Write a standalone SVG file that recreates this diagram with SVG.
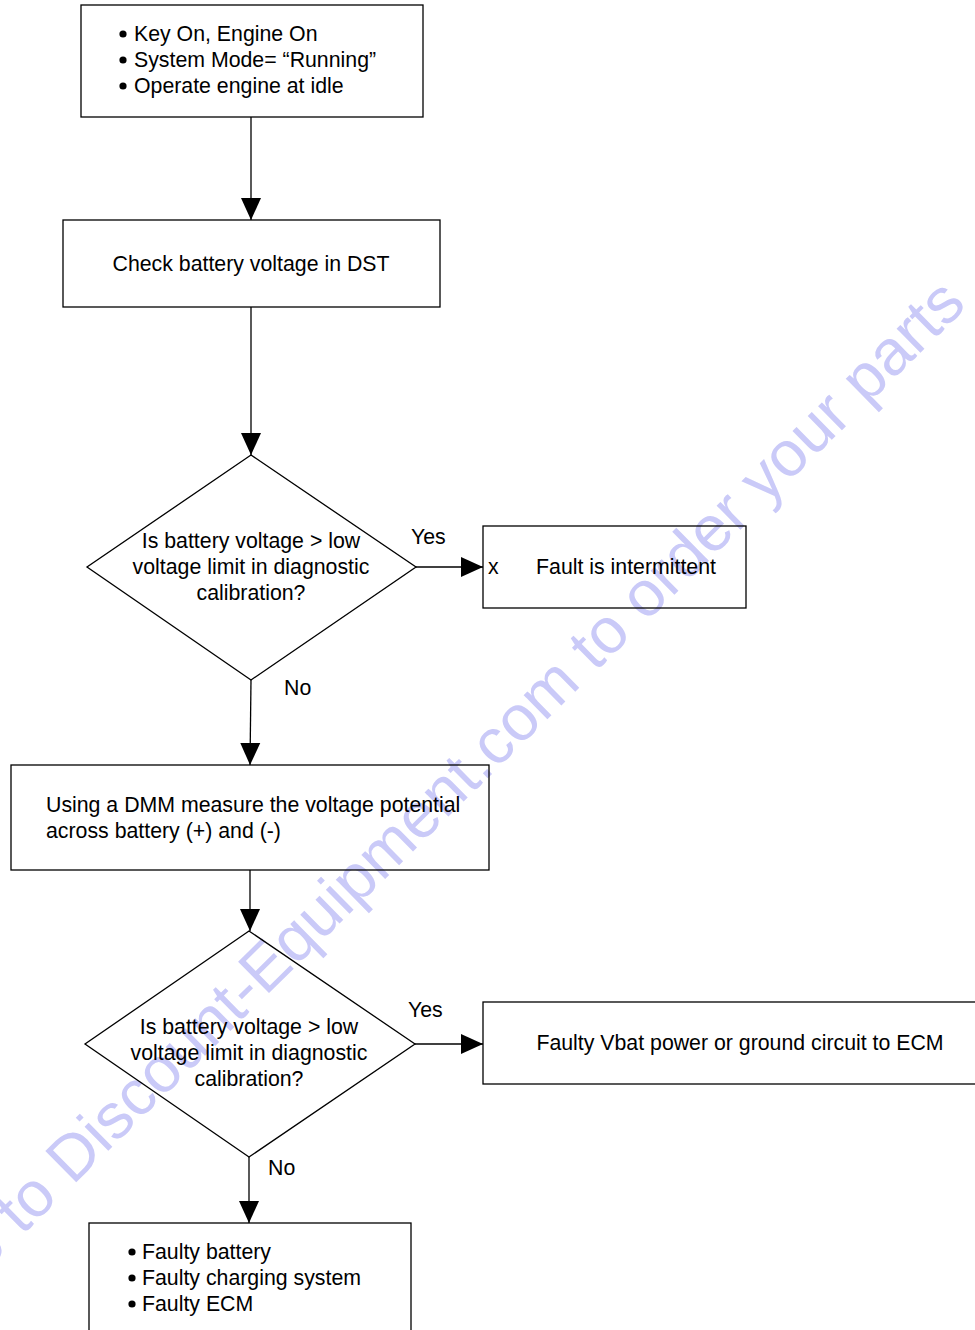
<svg xmlns="http://www.w3.org/2000/svg" width="975" height="1330" viewBox="0 0 975 1330">
<style>
.n{fill:none;stroke:#000;stroke-width:1.3}
.t{font-family:"Liberation Sans",Arial,sans-serif;font-size:21.3px;fill:#000}
.c{text-anchor:middle}
.e{stroke:#000;stroke-width:1.3;fill:none;marker-end:url(#ah)}
.wm{font-family:"Liberation Sans",Arial,sans-serif;font-size:64px;fill:#cacaf8}
</style>
<defs>
<marker id="ah" markerUnits="userSpaceOnUse" markerWidth="24" markerHeight="22" viewBox="0 0 24 22" refX="22" refY="11" orient="auto">
<path d="M0,1 L22,11 L0,21 Z" fill="#000"/>
</marker>
</defs>
<rect width="975" height="1330" fill="#fff"/>
<text class="wm" transform="translate(968,306) rotate(-44.5)" text-anchor="end">Go to Discount-Equipment.com to order your parts</text>
<g id="connectors">
<path class="e" d="M251,117 L251,220"/>
<path class="e" d="M251,307 L251,455"/>
<path class="e" d="M416,567 L483,567"/>
<path class="e" d="M251,680 L250,765"/>
<path class="e" d="M250,870 L250,931"/>
<path class="e" d="M415,1044 L483,1044"/>
<path class="e" d="M249,1157 L249,1223"/>
<text class="t" x="411" y="544">Yes</text>
<text class="t" x="284" y="695">No</text>
<text class="t" x="408" y="1017">Yes</text>
<text class="t" x="268" y="1175">No</text>
</g>
<g id="n1">
<rect class="n" x="81" y="5" width="342" height="112"/>
<circle cx="123" cy="34" r="3.6"/><circle cx="123" cy="60" r="3.6"/><circle cx="123" cy="86" r="3.6"/>
<text class="t" x="134" y="41">Key On, Engine On</text>
<text class="t" x="134" y="67">System Mode= “Running”</text>
<text class="t" x="134" y="93">Operate engine at idle</text>
</g>
<g id="n2">
<rect class="n" x="63" y="220" width="377" height="87"/>
<text class="t c" x="251" y="271">Check battery voltage in DST</text>
</g>
<g id="n3">
<path class="n" d="M251,455 L416,567 L251,680 L87,567 Z"/>
<text class="t c" x="251" y="548">Is battery voltage &gt; low</text>
<text class="t c" x="251" y="574">voltage limit in diagnostic</text>
<text class="t c" x="251" y="600">calibration?</text>
</g>
<g id="n4">
<rect class="n" x="483" y="526" width="263" height="82"/>
<text class="t" x="488" y="574">x</text>
<text class="t c" x="626" y="574">Fault is intermittent</text>
</g>
<g id="n5">
<rect class="n" x="11" y="765" width="478" height="105"/>
<text class="t" x="46" y="812">Using a DMM measure the voltage potential</text>
<text class="t" x="46" y="838">across battery (+) and (-)</text>
</g>
<g id="n6">
<path class="n" d="M249,931 L415,1044 L249,1157 L85,1044 Z"/>
<text class="t c" x="249" y="1034">Is battery voltage &gt; low</text>
<text class="t c" x="249" y="1060">voltage limit in diagnostic</text>
<text class="t c" x="249" y="1086">calibration?</text>
</g>
<g id="n7">
<rect class="n" x="483" y="1002" width="500" height="82"/>
<text class="t c" x="740" y="1050">Faulty Vbat power or ground circuit to ECM</text>
</g>
<g id="n8">
<rect class="n" x="89" y="1223" width="322" height="120"/>
<circle cx="132" cy="1252" r="3.6"/><circle cx="132" cy="1278" r="3.6"/><circle cx="132" cy="1304" r="3.6"/>
<text class="t" x="142" y="1259">Faulty battery</text>
<text class="t" x="142" y="1285">Faulty charging system</text>
<text class="t" x="142" y="1311">Faulty ECM</text>
</g>
</svg>
